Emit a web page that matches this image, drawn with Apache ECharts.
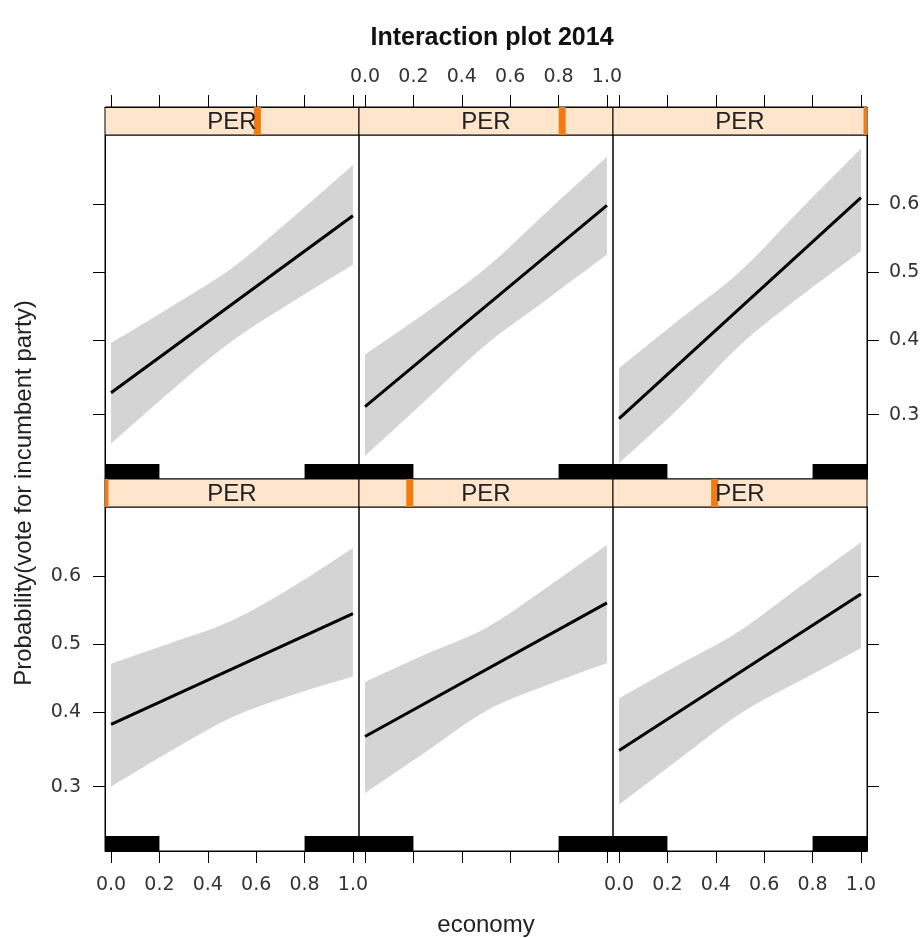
<!DOCTYPE html>
<html><head><meta charset="utf-8">
<script src="https://cdn.jsdelivr.net/npm/echarts@6/dist/echarts.min.js"></script>
<style>html,body{margin:0;padding:0;background:#fff}#c{width:923px;height:938px}</style>
</head><body><div id="c"></div>
<script>
// ---------- data ----------
const titleText = 'Interaction plot 2014';
const xLabelText = 'economy';
const yLabelText = 'Probability(vote for incumbent party)';
const stripLabel = 'PER';
const xTicks = [0.0, 0.2, 0.4, 0.6, 0.8, 1.0];
const yTicks = [0.3, 0.4, 0.5, 0.6];
const bandX = [0, 0.25, 0.5, 0.75, 1.0];
const fitX = [0, 1.0];
const rugIntervals = [[0, 0.2], [0.8, 1.0]];
// panel order: top row left->right, bottom row left->right
const perLevels = [0.6, 0.8, 1.0, 0.0, 0.2, 0.4];
// PER = 0.6
const fitPer06 = [0.328, 0.583];
const upperPer06 = [0.396, 0.449, 0.506, 0.580, 0.654];
const lowerPer06 = [0.265, 0.331, 0.399, 0.456, 0.511];
// PER = 0.8
const fitPer08 = [0.310, 0.598];
const upperPer08 = [0.380, 0.440, 0.506, 0.588, 0.665];
const lowerPer08 = [0.251, 0.318, 0.394, 0.459, 0.526];
// PER = 1.0
const fitPer10 = [0.295, 0.609];
const upperPer10 = [0.361, 0.430, 0.501, 0.592, 0.676];
const lowerPer10 = [0.243, 0.309, 0.393, 0.464, 0.531];
// PER = 0.0
const fitPer00 = [0.383, 0.545];
const upperPer00 = [0.471, 0.502, 0.535, 0.584, 0.639];
const lowerPer00 = [0.300, 0.347, 0.393, 0.425, 0.452];
// PER = 0.2
const fitPer02 = [0.366, 0.561];
const upperPer02 = [0.444, 0.485, 0.524, 0.583, 0.643];
const lowerPer02 = [0.292, 0.345, 0.402, 0.439, 0.472];
// PER = 0.4
const fitPer04 = [0.347, 0.574];
const upperPer04 = [0.420, 0.470, 0.520, 0.585, 0.647];
const lowerPer04 = [0.278, 0.336, 0.398, 0.446, 0.494];

const fits = [fitPer06, fitPer08, fitPer10, fitPer00, fitPer02, fitPer04];
const uppers = [upperPer06, upperPer08, upperPer10, upperPer00, upperPer02, upperPer04];
const lowers = [lowerPer06, lowerPer08, lowerPer10, lowerPer00, lowerPer02, lowerPer04];

// ---------- layout / style ----------
const logit = p => Math.log(p / (1 - p));
const invlogit = z => 1 / (1 + Math.exp(-z));
const X_MIN = -0.025, X_MAX = 1.025;
const Y_MIN = -1.23, Y_MAX = 0.815; // logit scale
const colLeft = [105, 359, 613], colW = 254;
const rowTop = [135, 507], rowH = 344;
const stripTop = [107, 479], stripH = 28;
const TICK_FONT = '"DejaVu Sans", sans-serif';
const TEXT_FONT = '"Liberation Sans", Arial, sans-serif';
const tickColor = '#333';

// Catmull-Rom spline through screen points -> SVG path segments
function splinePath(pts, moveFirst) {
  let d = (moveFirst ? 'M' : 'L') + pts[0][0] + ' ' + pts[0][1];
  for (let i = 0; i < pts.length - 1; i++) {
    const p0 = pts[Math.max(0, i - 1)], p1 = pts[i], p2 = pts[i + 1], p3 = pts[Math.min(pts.length - 1, i + 2)];
    const c1 = [p1[0] + (p2[0] - p0[0]) / 6, p1[1] + (p2[1] - p0[1]) / 6];
    const c2 = [p2[0] - (p3[0] - p1[0]) / 6, p2[1] - (p3[1] - p1[1]) / 6];
    d += 'C' + c1[0] + ' ' + c1[1] + ' ' + c2[0] + ' ' + c2[1] + ' ' + p2[0] + ' ' + p2[1];
  }
  return d;
}

const grids = [], xAxes = [], yAxes = [], series = [];
function xTickAxis(gridIndex, pos, showLabel) {
  return {gridIndex, type: 'value', min: X_MIN, max: X_MAX, position: pos,
    axisLine: {show: true, onZero: false, lineStyle: {color: '#000', width: 1}},
    splitLine: {show: false},
    axisTick: {show: true, length: 12, customValues: xTicks, lineStyle: {color: '#000', width: 1}},
    axisLabel: {show: showLabel, customValues: xTicks, formatter: v => v.toFixed(1),
      color: tickColor, fontSize: 19, fontFamily: TICK_FONT, margin: pos === 'top' ? 20 : 25}
  };
}
// panels: xAxis index p
for (let p = 0; p < 6; p++) {
  const row = p < 3 ? 0 : 1, col = p % 3;
  grids.push({left: colLeft[col], top: rowTop[row], width: colW, height: rowH,
    show: true, borderColor: '#000', borderWidth: 1, backgroundColor: 'transparent',
    containLabel: false, outerBoundsMode: 'none'});
  if (row === 1) {
    xAxes.push(xTickAxis(p, 'bottom', col !== 1));
  } else {
    xAxes.push({gridIndex: p, type: 'value', min: X_MIN, max: X_MAX, show: false});
  }
  const yLab = row === 0 ? (col === 2) : (col === 0);
  yAxes.push({gridIndex: p, type: 'value', min: Y_MIN, max: Y_MAX,
    show: col !== 1, position: col === 2 ? 'right' : 'left',
    axisLine: {show: true, onZero: false, lineStyle: {color: '#000', width: 1}},
    splitLine: {show: false},
    axisTick: {show: true, length: 12, customValues: yTicks.map(logit), lineStyle: {color: '#000', width: 1}},
    axisLabel: {show: yLab, customValues: yTicks.map(logit), formatter: v => invlogit(v).toFixed(1),
      color: tickColor, fontSize: 19, fontFamily: TICK_FONT, margin: col === 2 ? 22 : 24}
  });
  // confidence band (logit space), smooth edges
  series.push({type: 'custom', xAxisIndex: p, yAxisIndex: p, silent: true, clip: true, z: 1,
    data: bandX.map((x, k) => [x, logit(lowers[p][k]), logit(uppers[p][k])]),
    encode: {x: 0, y: [1, 2]},
    renderItem: (params, api) => {
      if (params.dataIndexInside !== 0) return null;
      const n = params.dataInsideLength;
      const up = [], lo = [];
      for (let k = 0; k < n; k++) {
        const x = api.value(0, k);
        up.push(api.coord([x, api.value(2, k)]));
        lo.push(api.coord([x, api.value(1, k)]));
      }
      const d = splinePath(up, true) + splinePath(lo.reverse(), false) + 'Z';
      return {type: 'path', shape: {pathData: d},
        style: {fill: '#d4d4d4', stroke: null}};
    }});
  // fitted line
  series.push({type: 'line', xAxisIndex: p, yAxisIndex: p, silent: true, symbol: 'none', z: 3,
    lineStyle: {color: '#000', width: 3},
    data: fitX.map((x, k) => [x, logit(fits[p][k])])});
  // rug
  series.push({type: 'custom', xAxisIndex: p, yAxisIndex: p, silent: true, clip: true, z: 4,
    data: rugIntervals,
    renderItem: (params, api) => {
      const a = api.value(0), b = api.value(1);
      const p0 = api.coord([a <= xTicks[0] ? X_MIN : a, Y_MIN]);
      const p1 = api.coord([b >= xTicks[xTicks.length - 1] ? X_MAX : b, Y_MIN]);
      return {type: 'rect', shape: {x: p0[0], y: p0[1] - 15, width: p1[0] - p0[0], height: 15},
        style: {fill: '#000'}};
    }});
}
// strips: xAxis index 6+p (0..1 for PER marker)
for (let p = 0; p < 6; p++) {
  const row = p < 3 ? 0 : 1, col = p % 3, g = 6 + p;
  grids.push({left: colLeft[col], top: stripTop[row], width: colW, height: stripH,
    show: true, borderColor: '#000', borderWidth: 1, backgroundColor: '#ffe5cc',
    containLabel: false, outerBoundsMode: 'none'});
  xAxes.push({gridIndex: g, type: 'value', min: 0, max: 1, show: false, position: 'bottom'});
  yAxes.push({gridIndex: g, type: 'value', min: 0, max: 1, show: false});
  series.push({type: 'custom', xAxisIndex: g, yAxisIndex: g, silent: true, clip: true, z: 5,
    data: [[perLevels[p], 0]],
    renderItem: (params, api) => {
      const v = api.value(0);
      const b = api.coord([v, 0]), t = api.coord([v, 1]);
      const c = api.coord([0.5, 0.5]);
      return {type: 'group', children: [
        {type: 'rect', shape: {x: b[0] - 3.5, y: t[1], width: 7, height: b[1] - t[1]},
          style: {fill: '#f07c12'}},
        {type: 'text', x: c[0], y: c[1] + 1,
          style: {text: stripLabel, fill: '#222', font: '24px ' + TEXT_FONT,
            align: 'center', verticalAlign: 'middle', textAlign: 'center', textVerticalAlign: 'middle'}}
      ]};
    }});
}
// top tick axes on the top-row strips
for (let p = 0; p < 3; p++) {
  xAxes.push(xTickAxis(6 + p, 'top', p === 1));
}

const option = {
  animation: false,
  backgroundColor: '#fff',
  grid: grids, xAxis: xAxes, yAxis: yAxes, series: series,
  graphic: [
    {type: 'text', x: 492, y: 38, style: {text: titleText, fill: '#111',
      font: 'bold 25px ' + TEXT_FONT, align: 'center', verticalAlign: 'middle'}},
    {type: 'text', x: 486, y: 925, style: {text: xLabelText, fill: '#222',
      font: '24px ' + TEXT_FONT, align: 'center', verticalAlign: 'middle'}},
    {type: 'text', x: 24, y: 493, rotation: Math.PI / 2, style: {text: yLabelText, fill: '#222',
      font: '24px ' + TEXT_FONT, align: 'center', verticalAlign: 'middle'}}
  ]
};
const chart = echarts.init(document.getElementById('c'), null, {renderer: 'canvas'});
chart.setOption(option);
</script>
</body></html>
